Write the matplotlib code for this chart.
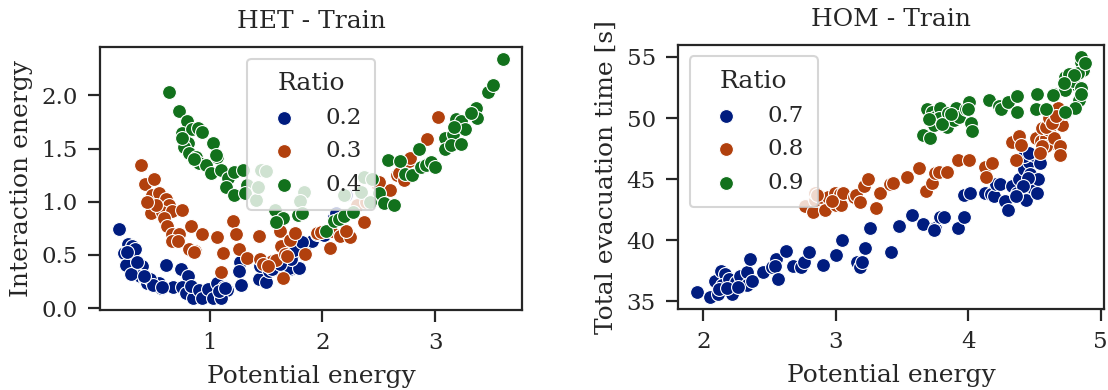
#!/usr/bin/env python

import numpy as np
import seaborn as sns
from matplotlib import pyplot as plt

sns.set_theme(context="talk", style="ticks")
plt.rcParams['font.family'] = ['DejaVu Serif']

colors = ['#001c7f', '#b1400d', '#12711c']

# HET - Train: (potential energy, interaction energy)
het_ratios = ['0.2', '0.3', '0.4']
het_02 = [(0.20, 0.745), (0.28, 0.60), (0.31, 0.585), (0.24, 0.52), (0.33, 0.46), (0.26, 0.41),
          (0.40, 0.40), (0.38, 0.30), (0.43, 0.27), (0.45, 0.24), (0.555, 0.24), (0.57, 0.19),
          (0.61, 0.41), (0.68, 0.20), (0.75, 0.365), (0.81, 0.30), (0.76, 0.20), (0.79, 0.14),
          (0.85, 0.095), (0.84, 0.205), (0.91, 0.17), (0.935, 0.095), (0.985, 0.18), (1.035, 0.095),
          (1.065, 0.24), (1.09, 0.14), (1.125, 0.20), (1.155, 0.17), (1.27, 0.43), (1.26, 0.35),
          (1.28, 0.22), (1.44, 0.27), (1.50, 0.25), (1.445, 0.395), (1.53, 0.35), (1.59, 0.365),
          (1.65, 0.41), (1.71, 0.365), (1.68, 0.475), (1.70, 0.38), (1.79, 0.38), (1.78, 0.54),
          (1.85, 0.585), (1.91, 0.63), (1.955, 0.70), (2.10, 0.855), (1.72, 0.46), (1.75, 0.55),
          (1.82, 0.62), (2.01, 0.685), (2.12, 0.89), (2.21, 1.06), (0.34, 0.555), (0.47, 0.27),
          (0.50, 0.22), (0.30, 0.32), (0.36, 0.43), (0.42, 0.30), (0.27, 0.53), (0.58, 0.20),
          (1.10, 0.10), (1.08, 0.16), (1.14, 0.19), (1.55, 0.37), (1.62, 0.42)]
het_03 = [(0.39, 1.35), (0.43, 1.17), (0.51, 1.21), (0.49, 1.06), (0.55, 1.08), (0.61, 1.03),
          (0.64, 0.965), (0.48, 0.895), (0.58, 0.90), (0.67, 0.91), (0.76, 0.92), (0.60, 0.845),
          (0.62, 0.775), (0.67, 0.70), (0.73, 0.70), (0.67, 0.63), (0.72, 0.63), (0.84, 0.775),
          (0.93, 0.70), (0.82, 0.555), (0.875, 0.54), (1.065, 0.665), (1.12, 0.515), (1.10, 0.34),
          (1.21, 0.82), (1.23, 0.70), (1.26, 0.555), (1.33, 0.475), (1.44, 0.68), (1.45, 0.465),
          (1.55, 0.445), (1.59, 0.45), (1.62, 0.73), (1.63, 0.585), (1.65, 0.285), (1.67, 0.51),
          (1.71, 0.64), (1.76, 0.71), (1.69, 0.49), (1.85, 0.505), (1.955, 0.71), (1.985, 0.72),
          (2.08, 0.73), (2.07, 0.57), (2.16, 0.68), (2.24, 0.665), (2.21, 0.73), (2.365, 0.81),
          (2.31, 0.97), (2.39, 1.00), (2.48, 1.17), (2.60, 1.11), (2.66, 1.25), (2.71, 1.31),
          (2.77, 1.38), (2.68, 1.27), (2.74, 1.22), (2.93, 1.59), (3.02, 1.80), (2.50, 1.19),
          (2.78, 1.41), (0.53, 0.97), (0.45, 1.00), (2.72, 1.20), (0.86, 0.53), (1.47, 0.42),
          (1.52, 0.40)]
het_04 = [(0.644, 2.03), (0.727, 1.85), (0.80, 1.76), (0.755, 1.65), (0.843, 1.68), (0.896, 1.69),
          (0.935, 1.66), (0.807, 1.55), (0.777, 1.51), (0.816, 1.46), (0.88, 1.42), (0.91, 1.36),
          (0.97, 1.345), (1.03, 1.55), (1.065, 1.42), (1.015, 1.27), (1.10, 1.30), (1.163, 1.22),
          (1.22, 1.28), (1.30, 1.30), (1.15, 1.14), (1.22, 1.06), (1.33, 1.16), (1.31, 1.08),
          (1.41, 1.02), (1.46, 1.30), (1.50, 1.29), (1.43, 1.14), (1.58, 0.92), (1.65, 0.85),
          (1.59, 0.81), (1.84, 1.09), (1.80, 1.01), (1.78, 0.88), (1.82, 0.89), (2.37, 1.23),
          (2.19, 1.06), (2.34, 1.09), (2.44, 1.21), (2.50, 1.08), (2.55, 0.99), (2.63, 0.97),
          (2.42, 1.00), (2.58, 1.39), (2.69, 1.38), (2.73, 1.26), (2.79, 1.25), (2.86, 1.50),
          (2.87, 1.33), (2.92, 1.345), (2.96, 1.37), (3.00, 1.33), (3.09, 1.60), (3.09, 1.50),
          (3.16, 1.64), (3.14, 1.53), (3.18, 1.78), (3.23, 1.76), (3.26, 1.68), (3.23, 1.54),
          (3.17, 1.70), (3.36, 1.88), (3.37, 1.79), (3.32, 1.835), (3.47, 2.03), (3.51, 2.10),
          (3.60, 2.34), (2.03, 0.73), (2.10, 0.82), (2.15, 0.84), (2.19, 0.87), (2.27, 0.90),
          (0.76, 1.60), (0.86, 1.40), (1.06, 1.44)]

# HOM - Train: (potential energy, total evacuation time)
hom_ratios = ['0.7', '0.8', '0.9']
hom_07 = [(1.955, 35.76), (2.05, 35.35), (2.11, 35.6), (2.09, 36.7), (2.13, 37.5), (2.165, 37.2),
          (2.14, 36.3), (2.195, 36.8), (2.215, 35.6), (2.245, 36.6), (2.28, 37.1), (2.33, 37.4),
          (2.33, 36.3), (2.37, 36.7), (2.35, 38.5), (2.45, 37.4), (2.52, 37.8), (2.55, 38.5),
          (2.54, 37.9), (2.56, 36.8), (2.62, 39.1), (2.68, 37.9), (2.74, 37.8), (2.76, 38.2),
          (2.80, 39.0), (2.90, 38.0), (3.005, 38.8), (3.05, 40.0), (3.16, 38.25), (3.18, 37.8),
          (3.22, 39.4), (3.26, 41.0), (3.195, 38.2), (3.42, 39.0), (3.48, 41.2), (3.575, 42.1),
          (3.66, 41.3), (3.75, 41.0), (3.79, 41.9), (3.82, 41.9), (3.92, 41.0), (3.97, 41.9),
          (3.97, 43.7), (4.01, 43.9), (4.13, 43.9), (4.17, 43.75), (4.195, 43.6), (4.21, 44.6),
          (4.24, 44.6), (4.28, 43.2), (4.30, 42.5), (4.33, 44.4), (4.37, 43.9), (4.41, 43.5),
          (4.385, 45.0), (4.42, 45.8), (4.46, 46.4), (4.47, 45.4), (4.46, 44.6), (4.49, 44.3),
          (4.435, 43.3), (4.52, 43.9), (4.53, 45.0), (4.50, 47.0), (4.54, 46.3), (4.42, 46.9),
          (4.46, 47.1), (4.45, 45.1), (4.41, 44.4), (4.36, 43.6), (2.12, 36.0), (2.18, 36.1),
          (2.26, 36.2), (3.74, 40.8)]
hom_08 = [(2.77, 42.8), (2.83, 42.3), (2.84, 43.3), (2.84, 43.9), (2.89, 43.5), (2.92, 42.45),
          (2.94, 43.5), (2.99, 43.9), (3.0, 42.9), (3.03, 43.75), (3.04, 42.9), (3.055, 43.9),
          (3.14, 43.5), (3.155, 43.7), (3.18, 43.1), (3.21, 44.4), (3.245, 45.0), (3.30, 42.6),
          (3.33, 43.9), (3.41, 44.6), (3.435, 44.7), (3.535, 45.2), (3.625, 45.9), (3.68, 44.0),
          (3.73, 44.7), (3.75, 45.5), (3.78, 45.6), (3.84, 45.6), (3.92, 46.6), (4.005, 46.6),
          (4.13, 46.0), (4.18, 46.3), (4.135, 45.2), (4.33, 48.0), (4.38, 48.5), (4.40, 47.8),
          (4.36, 46.6), (4.51, 48.4), (4.55, 48.1), (4.59, 48.4), (4.56, 49.2), (4.61, 49.0),
          (4.64, 47.95), (4.59, 47.7), (4.65, 48.4), (4.69, 47.7), (4.69, 47.0), (4.675, 49.7),
          (4.71, 49.4), (4.59, 49.3), (4.61, 50.0), (4.68, 50.8), (4.73, 50.4), (4.56, 47.7),
          (4.54, 47.1), (2.86, 43.7), (2.97, 43.2), (4.63, 49.6), (4.66, 50.2)]
hom_09 = [(3.66, 48.6), (3.71, 48.4), (3.69, 50.7), (3.73, 50.5), (3.75, 50.1), (3.79, 50.8),
          (3.78, 50.0), (3.815, 49.6), (3.84, 49.3), (3.85, 50.4), (3.89, 49.85), (3.91, 50.8),
          (3.93, 50.1), (3.98, 50.7), (4.005, 51.3), (4.00, 50.7), (4.02, 49.6), (4.025, 48.9),
          (3.74, 49.4), (4.16, 51.5), (4.23, 51.0), (4.25, 50.7), (4.30, 51.3), (4.37, 51.8),
          (4.37, 50.5), (4.52, 52.0), (4.51, 50.7), (4.59, 50.7), (4.65, 52.0), (4.73, 52.8),
          (4.73, 53.4), (4.76, 53.6), (4.81, 52.8), (4.84, 51.5), (4.81, 50.8), (4.73, 52.3),
          (4.79, 53.0), (4.85, 54.6), (4.87, 53.95), (4.83, 53.7), (4.85, 52.5), (4.85, 55.0),
          (4.88, 54.5), (4.80, 53.5), (4.72, 52.9), (4.85, 52.0), (4.73, 50.5), (4.64, 51.9),
          (3.70, 49.9), (3.80, 49.5), (3.87, 50.3)]

fig = plt.figure(figsize=(11.08, 3.9), dpi=100)
ax1 = fig.add_axes([0.0903, 0.205, 0.381, 0.674])
ax2 = fig.add_axes([0.612, 0.2077, 0.3845, 0.677])


def draw(ax, groups, labels, title, ylabel, legend_loc):
    for pts, lab, c in zip(groups, labels, colors):
        pts = np.array(pts)
        ax.scatter(pts[:, 0], pts[:, 1], s=100, color=c, edgecolor='white', linewidth=0.8, label=lab)
    ax.set_title(title, pad=14)
    ax.set_xlabel('Potential energy', labelpad=8)
    ax.set_ylabel(ylabel, labelpad=6)
    ax.tick_params(length=8.5, width=1.6, pad=7.5)
    for sp in ax.spines.values():
        sp.set_linewidth(1.6)
    ax.legend(title='Ratio', loc=legend_loc, borderpad=0.6)


draw(ax1, [het_02, het_03, het_04], het_ratios, 'HET - Train', 'Interaction energy', 'upper center')
draw(ax2, [hom_07, hom_08, hom_09], hom_ratios, 'HOM - Train', 'Total evacuation time [s]', 'upper left')
ax1.set_xticks([1, 2, 3])
ax1.set_yticks([0.0, 0.5, 1.0, 1.5, 2.0])
ax2.set_xticks([2, 3, 4, 5])
ax2.set_yticks([35, 40, 45, 50, 55])

fig.savefig('out.png', dpi=100)
